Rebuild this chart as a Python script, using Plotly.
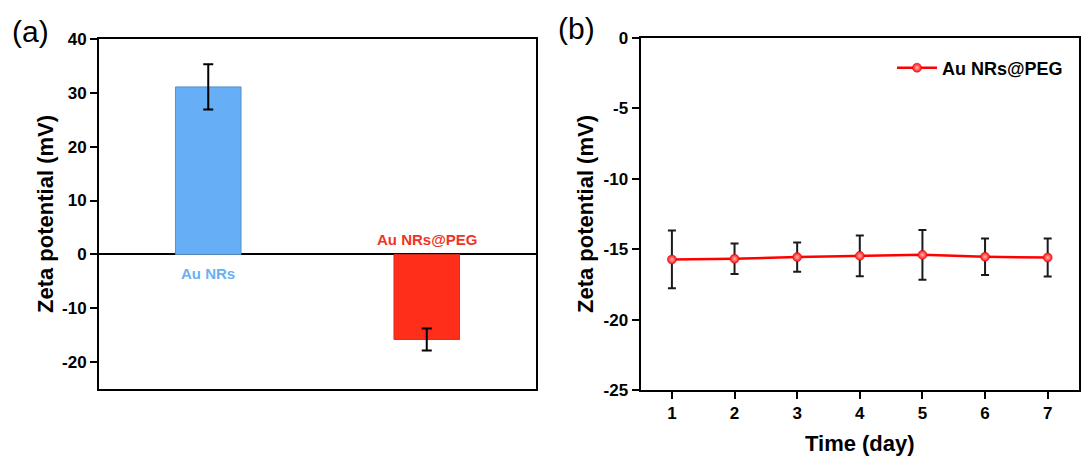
import plotly.graph_objects as go

# ---- data: panel (a)
categories = ["Au NRs", "Au NRs@PEG"]
zeta_a = [31.1, -15.8]
err_a = [4.2, 2.05]
bar_colors = ["#66AEF5", "#FF2E1B"]
label_colors = ["#6AAFF2", "#EE3424"]

# ---- data: panel (b)
days = [1, 2, 3, 4, 5, 6, 7]
zeta_b = [-15.73, -15.68, -15.56, -15.47, -15.40, -15.54, -15.59]
err_b = [2.05, 1.08, 1.04, 1.45, 1.77, 1.30, 1.35]

ya_ticks = [40, 30, 20, 10, 0, -10, -20]
ya_text = ["40", "30", "20", "10", "0", "-10", "-20"]
yb_ticks = [0, -5, -10, -15, -20, -25]
yb_text = ["0", "-5", "-10", "-15", "-20", "-25"]

FONT = "Arial, Liberation Sans, sans-serif"

L, R, T, B = 99, 2, 38, 66
W, H = 1081, 456
PW = W - L - R
PH = H - T - B


def px_x(x):
    return (x - L) / PW


def px_y(y):
    return (H - B - y) / PH


def xd(a, b):
    return [max(0, px_x(a)), min(1, px_x(b))]


def yd(top, bot):
    return [max(0, px_y(bot)), min(1, px_y(top))]


fig = go.Figure()

fig.add_trace(go.Bar(
    x=categories, y=zeta_a, width=0.30,
    marker=dict(color=bar_colors, line=dict(color=["#5A90C4", "#D5301E"], width=1)),
    error_y=dict(type="data", array=err_a, color="black", thickness=2, width=5),
    showlegend=False, xaxis="x", yaxis="y",
))

fig.add_trace(go.Scatter(
    x=days, y=zeta_b, mode="lines+markers", name="Au NRs@PEG",
    line=dict(color="#FF0000", width=2.5),
    marker=dict(color="#FF1010", size=9, line=dict(color="#E00000", width=0.5),
                gradient=dict(type="radial", color="#FFB8B8")),
    error_y=dict(type="data", array=err_b, color="#1a1a1a", thickness=2, width=4),
    xaxis="x2", yaxis="y2",
))

ann = []
for i, (c, v) in enumerate(zip(categories, zeta_a)):
    ann.append(dict(
        x=c, y=0, xref="x", yref="y", text="<b>%s</b>" % c, showarrow=False,
        font=dict(family=FONT, size=15, color=label_colors[i]),
        yanchor="middle", yshift=(-19 if v > 0 else 15),
    ))
ann.append(dict(x=px_x(30.5), y=px_y(31), xref="paper", yref="paper", text="(a)",
                showarrow=False, font=dict(family=FONT, size=30, color="black"),
                xanchor="center", yanchor="middle"))
ann.append(dict(x=px_x(576), y=px_y(29), xref="paper", yref="paper", text="(b)",
                showarrow=False, font=dict(family=FONT, size=30, color="black"),
                xanchor="center", yanchor="middle"))

tickfont = dict(family=FONT, size=17, color="black", weight="bold")
titlefont = dict(family=FONT, size=22, color="black", weight="bold")
common = dict(showline=True, linecolor="black", linewidth=2, mirror=True,
              showgrid=False, automargin=False)

fig.update_layout(
    width=W, height=H,
    margin=dict(l=L, r=R, t=T, b=B),
    paper_bgcolor="white", plot_bgcolor="white",
    font=dict(family=FONT, color="black"),
    annotations=ann,
    xaxis=dict(domain=xd(99, 536), range=[-0.5, 1.5], showticklabels=False,
               ticks="", zeroline=False, **common),
    yaxis=dict(domain=yd(39, 389), range=[-25, 40], tickvals=ya_ticks, ticktext=ya_text,
               ticks="outside", ticklen=7, tickwidth=2, tickcolor="black",
               tickfont=tickfont, zeroline=True, zerolinecolor="black", zerolinewidth=2,
               title=dict(text="Zeta potential (mV)", font=titlefont, standoff=2),
               **common),
    xaxis2=dict(domain=xd(640.6, 1079.4), range=[0.5, 7.5], tickvals=days,
                ticks="outside", ticklen=7, tickwidth=2, tickcolor="black",
                tickfont=tickfont, zeroline=False, anchor="y2",
                title=dict(text="Time (day)", font=titlefont, standoff=14),
                **common),
    yaxis2=dict(domain=yd(37.7, 390), range=[-25, 0], tickvals=yb_ticks, ticktext=yb_text,
                ticks="outside", ticklen=7, tickwidth=2, tickcolor="black",
                tickfont=tickfont, zeroline=False, anchor="x2",
                title=dict(text="Zeta potential (mV)", font=titlefont, standoff=4),
                **common),
    legend=dict(x=px_x(892), y=px_y(68), xanchor="left", yanchor="middle",
                font=dict(family=FONT, size=18, color="black", weight="bold"),
                bgcolor="rgba(0,0,0,0)", borderwidth=0, itemwidth=40),
)

fig.write_html("out.html", config={"displayModeBar": False},
               post_script="document.body.style.margin='0px';")
